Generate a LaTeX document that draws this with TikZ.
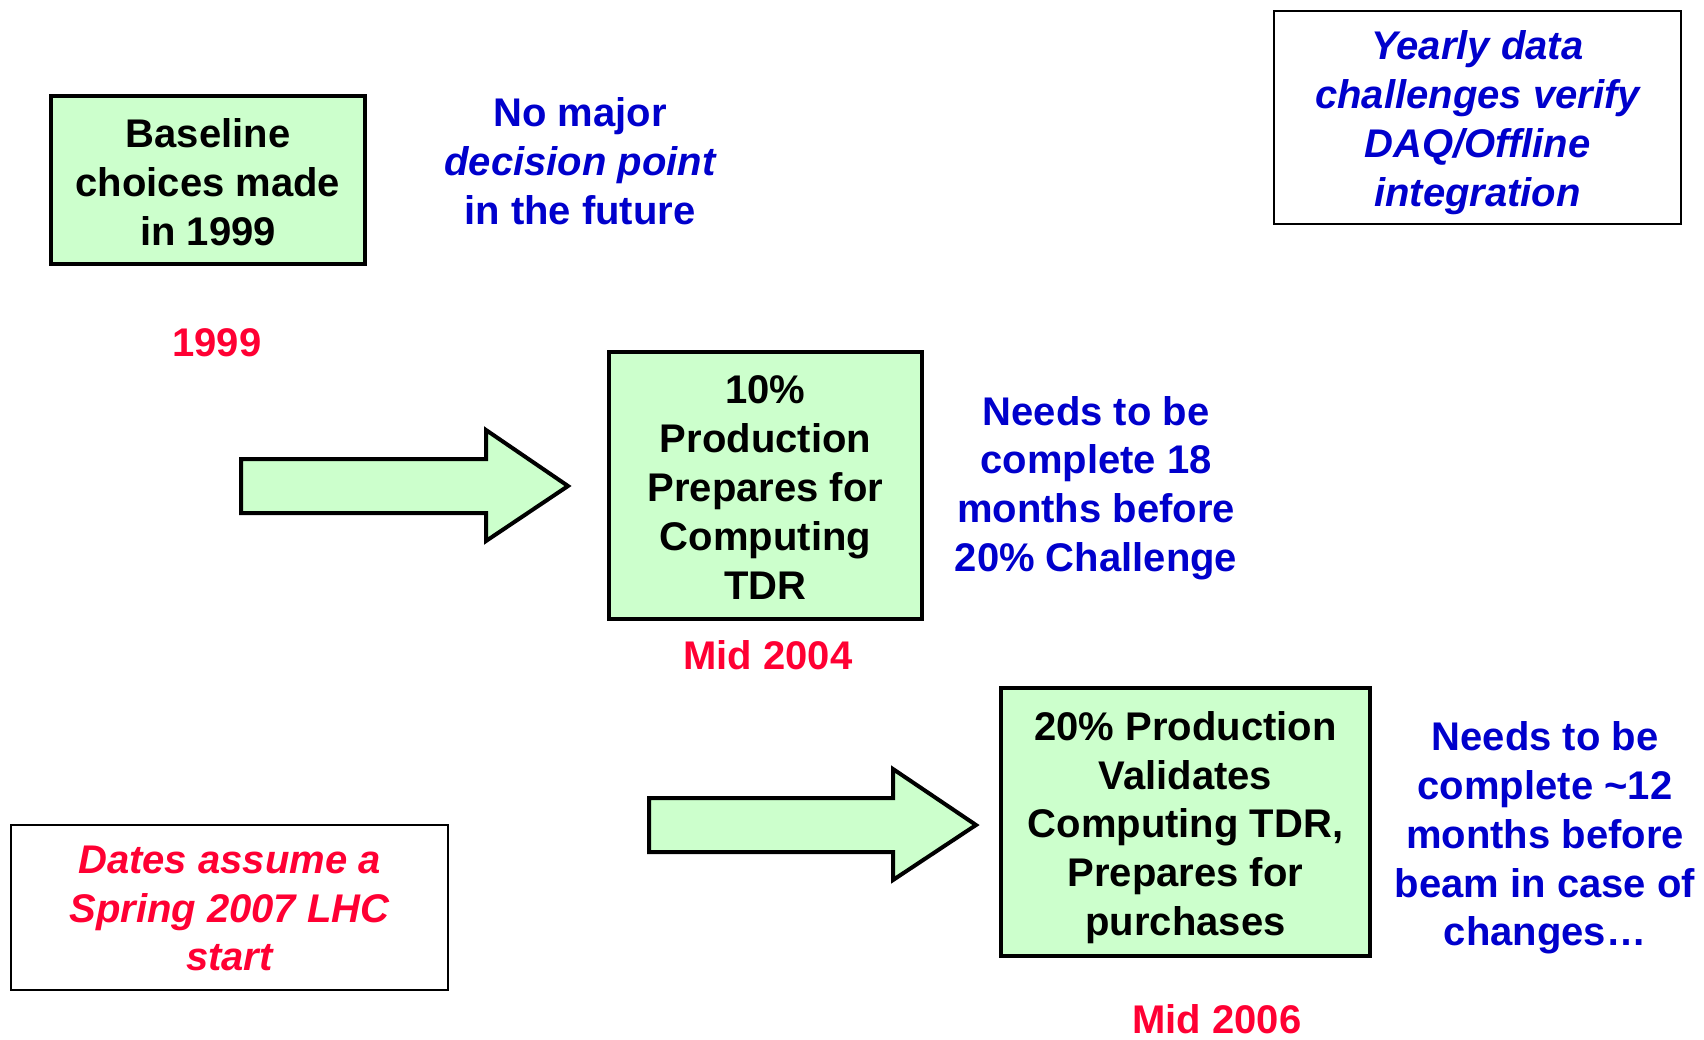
\documentclass[tikz,border=0pt]{standalone}
\usepackage{fontspec}
\setmainfont{Liberation Sans}
\definecolor{boxgreen}{RGB}{204,255,204}
\definecolor{txtblue}{RGB}{0,0,204}
\definecolor{txtred}{RGB}{255,0,51}
\begin{document}
\begin{tikzpicture}[x=1pt,y=-1pt,
  bigfont/.style={font=\fontsize{40}{48.8}\selectfont\bfseries},
  greenbox/.style={draw=black,line width=4pt,fill=boxgreen,inner sep=0pt},
  notebox/.style={draw=black,line width=1.3pt,inner sep=0pt},
  boxtxt/.style={align=center,bigfont,inner sep=0pt},
  bluetxt/.style={text=txtblue,align=center,bigfont},
  redtxt/.style={text=txtred,align=center,bigfont},
  blockarrow/.style={draw=black,line width=4pt,fill=boxgreen,line join=miter}]
\useasboundingbox (0,0) rectangle (1704,1039);
% boxes
\node[greenbox,minimum width=314pt,minimum height=168pt] (base) at (208,180) {};
\node[boxtxt] (base-t) at ([yshift=-2pt]base.center) {Baseline\\choices made\\in 1999};
\node[greenbox,minimum width=313pt,minimum height=267pt] (tenp) at (765.5,485.5) {};
\node[boxtxt] (tenp-t) at ([yshift=-2pt]tenp.center) {10\%\\Production\\Prepares for\\Computing\\TDR};
\node[greenbox,minimum width=369pt,minimum height=268pt] (twentyp) at (1185.5,822) {};
\node[boxtxt] (twentyp-t) at ([yshift=-5.5pt]twentyp.center) {20\% Production\\Validates\\Computing TDR,\\Prepares for\\purchases};
\node[notebox,minimum width=407pt,minimum height=213pt] (yearly) at (1477.5,117.5) {};
\node[boxtxt,text=txtblue] (yearly-t) at ([yshift=-5pt]yearly.center)
  {\itshape Yearly data\\\itshape challenges verify\\\itshape DAQ/Offline\\\itshape integration};
\node[notebox,minimum width=437pt,minimum height=165pt] (dates) at (229.5,907.5) {};
\node[boxtxt,text=txtred] (dates-t) at ([yshift=-1pt]dates.center)
  {\itshape Dates assume a\\\itshape Spring 2007 LHC\\\itshape start};
% free texts
\node[bluetxt] (nomajor) at (580,161) {No major\\\itshape decision point\\in the future};
\node[redtxt] (y1999) at (217,343) {1999};
\node[redtxt] (m2004) at (768,655) {Mid 2004};
\node[redtxt] (m2006) at (1217,1019) {Mid 2006};
\node[bluetxt] (needs18) at (1096,488) {Needs to be\\complete 18\\months before\\20\% Challenge};
\node[bluetxt] (needs12) at (1545,838) {Needs to be\\complete \textasciitilde12\\months before\\beam in case of\\changes\ldots};
% block arrows
\draw[blockarrow] (241,459) -- (486,459) -- (486,430) -- (568,486) -- (486,541) -- (486,513) -- (241,513) -- cycle;
\draw[blockarrow] (649,798) -- (893,798) -- (893,769) -- (976,825) -- (893,880) -- (893,852) -- (649,852) -- cycle;
\end{tikzpicture}
\end{document}
